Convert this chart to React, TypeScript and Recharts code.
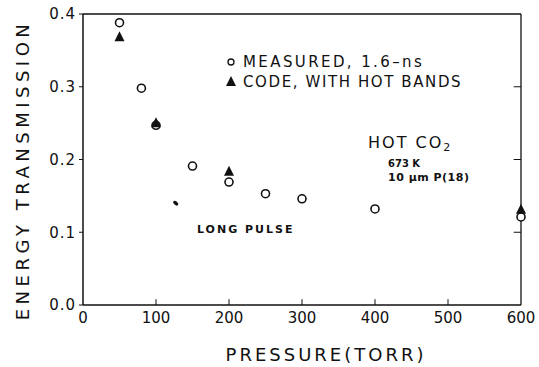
import { ScatterChart, Scatter, XAxis, YAxis, ReferenceLine, Customized } from 'recharts'

const measuredPressure = [50, 80, 100, 150, 200, 250, 300, 400, 600]
const measuredTransmission = [0.388, 0.298, 0.247, 0.191, 0.169, 0.153, 0.146, 0.132, 0.121]
const codePressure = [50, 100, 200, 600]
const codeTransmission = [0.368, 0.25, 0.183, 0.131]
const longPulsePressure = [127]
const longPulseTransmission = [0.14]
const xTicks = [0, 100, 200, 300, 400, 500, 600]
const yTicks = [0, 0.1, 0.2, 0.3, 0.4]

const measured = measuredPressure.map((p, i) => ({ p, t: measuredTransmission[i] }))
const code = codePressure.map((p, i) => ({ p, t: codeTransmission[i] }))
const longPulse = longPulsePressure.map((p, i) => ({ p, t: longPulseTransmission[i] }))

const font = '"DejaVu Sans", sans-serif'
const ink = '#111'

const Circle = (props: any) => (
  <circle cx={props.cx} cy={props.cy} r={4} fill="#fff" stroke={ink} strokeWidth={1.6} />
)

const Triangle = (props: any) => {
  const { cx, cy } = props
  return <polygon points={`${cx},${cy - 6} ${cx - 5},${cy + 4} ${cx + 5},${cy + 4}`} fill={ink} />
}

const Blob = (props: any) => (
  <ellipse cx={props.cx} cy={props.cy} rx={3} ry={1.8} fill={ink} transform={`rotate(40 ${props.cx} ${props.cy})`} />
)

function Annotations() {
  return (
    <g fontFamily={font} fill={ink}>
      <circle cx={231} cy={62} r={3} fill="#fff" stroke={ink} strokeWidth={1.3} />
      <text x={243} y={67} fontSize={15} letterSpacing={2.4}>MEASURED, 1.6–ns</text>
      <polygon points="231,76 226,86 236,86" fill={ink} />
      <text x={243} y={87} fontSize={15} letterSpacing={1.6}>CODE, WITH HOT BANDS</text>
      <text x={368} y={148} fontSize={16} letterSpacing={2}>
        HOT CO<tspan fontSize={11} dy={3}>2</tspan>
      </text>
      <text x={388} y={167} fontSize={10} fontWeight="bold">673 K</text>
      <text x={388} y={181} fontSize={11} fontWeight="bold" letterSpacing={0.5}>10 µm P(18)</text>
      <text x={197} y={233} fontSize={11} fontWeight="bold" letterSpacing={2}>LONG PULSE</text>
      <text
        x={22}
        y={170}
        fontSize={18}
        letterSpacing={4.5}
        textAnchor="middle"
        dominantBaseline="central"
        transform="rotate(-90 22 170)"
      >
        ENERGY TRANSMISSION
      </text>
      <text x={326} y={361} fontSize={18} letterSpacing={3} textAnchor="middle">PRESSURE(TORR)</text>
    </g>
  )
}

export default function App() {
  return (
    <div style={{ position: 'absolute', left: 0, top: 0, width: 539, height: 367, background: '#fff' }}>
      <ScatterChart width={539} height={367} margin={{ top: 14, right: 18, bottom: 0, left: 0 }}>
        <XAxis
          type="number"
          dataKey="p"
          domain={[0, 600]}
          ticks={xTicks}
          height={62}
          tickLine={false}
          tickSize={0}
          tickMargin={7}
          axisLine={{ stroke: ink, strokeWidth: 1.5 }}
          tick={{ fill: ink, fontSize: 15, fontFamily: font }}
        />
        <YAxis
          type="number"
          dataKey="t"
          domain={[0, 0.4]}
          ticks={yTicks}
          width={83}
          tickSize={4}
          tickMargin={3}
          tickFormatter={(v: number) => v.toFixed(1)}
          tickLine={{ stroke: ink }}
          axisLine={{ stroke: ink, strokeWidth: 1.5 }}
          tick={{ fill: ink, fontSize: 15, fontFamily: font, letterSpacing: 1 }}
        />
        <ReferenceLine y={0.4} stroke={ink} strokeWidth={1.3} />
        <ReferenceLine x={600} stroke={ink} strokeWidth={1.3} />
        {yTicks.slice(1, 4).map(v => (
          <ReferenceLine key={'r' + v} segment={[{ x: 600, y: v }, { x: 590, y: v }]} stroke={ink} />
        ))}
        {xTicks.slice(1, 6).map(v => (
          <ReferenceLine key={'b' + v} segment={[{ x: v, y: 0 }, { x: v, y: 0.008 }]} stroke={ink} />
        ))}
        <Scatter data={measured} shape={Circle} isAnimationActive={false} />
        <Scatter data={code} shape={Triangle} isAnimationActive={false} />
        <Scatter data={longPulse} shape={Blob} isAnimationActive={false} />
        <Customized component={Annotations} />
      </ScatterChart>
    </div>
  )
}
